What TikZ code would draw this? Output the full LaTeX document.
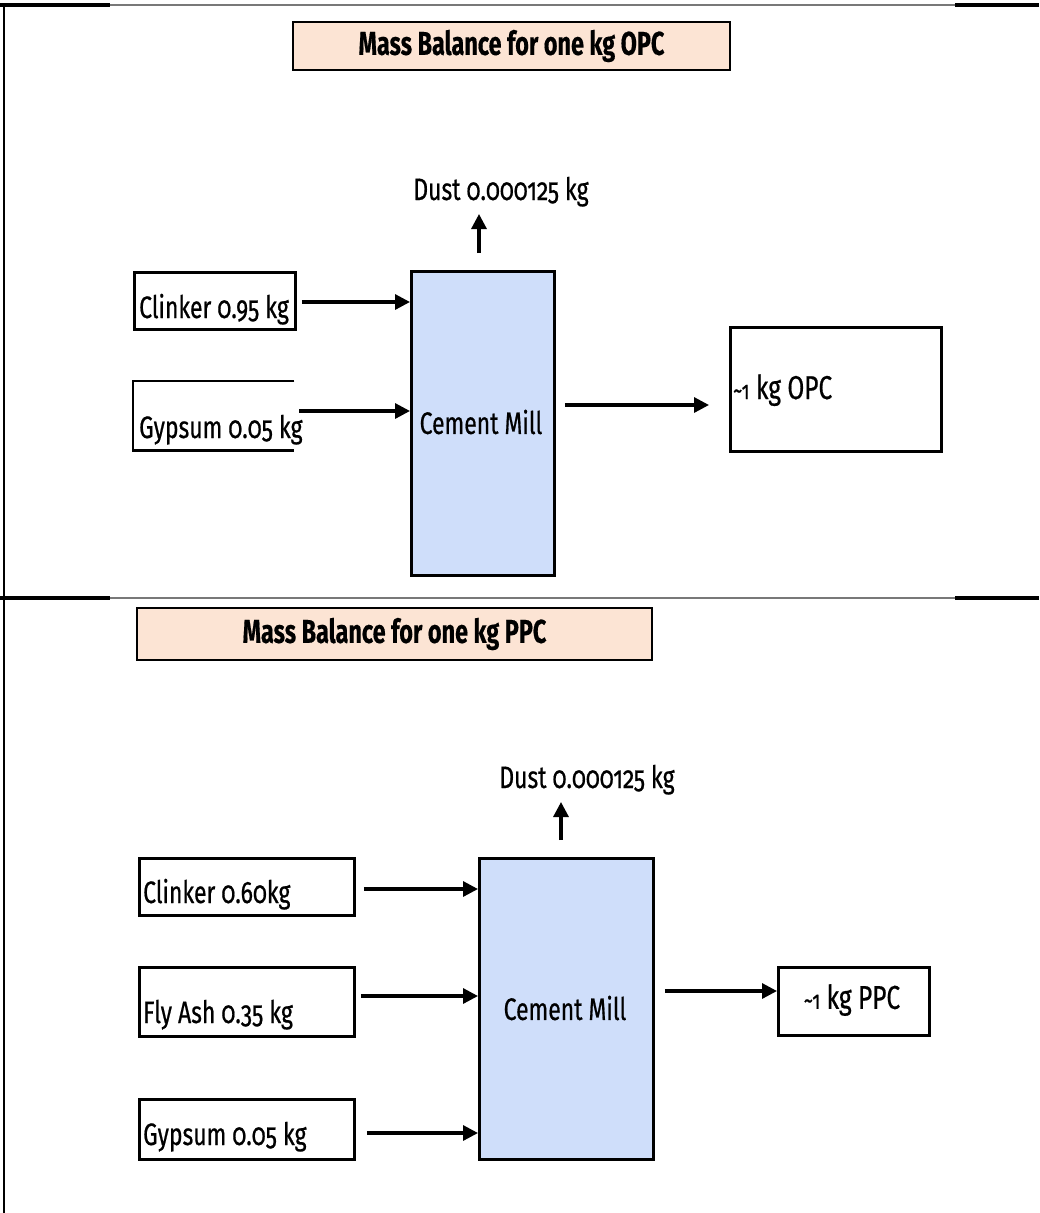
\documentclass[tikz,border=0pt]{standalone}
\usepackage{fontspec}
\setmainfont{Fira Sans}[Numbers=OldStyle, FakeStretch=0.74, FakeBold=0.6]
\newfontfamily\titlefont{Fira Sans}[Numbers=OldStyle, FakeStretch=0.71, FakeBold=0.4, BoldFont={* Bold}]
\usetikzlibrary{arrows.meta,calc}
\definecolor{peach}{RGB}{252,228,212}
\definecolor{millblue}{RGB}{207,222,250}
\definecolor{rulegray}{RGB}{120,120,120}
\begin{document}
\begin{tikzpicture}[x=1pt,y=-1pt,
  box/.style={draw=black, line width=2.8pt, fill=white, inner sep=0pt},
  titlebox/.style={draw=black, line width=2.8pt, fill=peach, inner sep=0pt,
    font=\titlefont\fontsize{33}{36}\selectfont\bfseries},
  mill/.style={draw=black, line width=2.8pt, fill=millblue, inner sep=0pt},
  lbl/.style={font=\fontsize{31}{34}\selectfont, inner sep=0pt},
  outlbl/.style={font=\fontsize{33}{36}\selectfont, inner sep=0pt},
  arr/.style={line width=3.2pt, -{Triangle[length=15pt,width=15pt]}},
]
\useasboundingbox (0,0) rectangle (1039,1213);
% frame rules
\draw[line width=3.2pt] (0,5) -- (110,5);
\draw[line width=1.2pt, rulegray] (110,5) -- (955,5);
\draw[line width=3.2pt] (955,5) -- (1039,5);
\draw[line width=3.2pt] (0,598) -- (110,598);
\draw[line width=1.2pt, rulegray] (110,598) -- (955,598);
\draw[line width=3.2pt] (955,598) -- (1039,598);
\draw[line width=1.8pt] (4,4) -- (4,1213);

% ===== OPC =====
\node[titlebox, minimum width=437, minimum height=48] (t1) at (511.5,46) {Mass Balance for one kg OPC};
\node[mill, minimum width=143, minimum height=304, anchor=north west] (m1) at (410,270) {};
\node[lbl] (m1t) at (481,422) {Cement Mill};
\node[lbl, anchor=base] (d1) at (501,200) {Dust 0.000125 kg};
\coordinate (d1s) at (479,253);
\coordinate (d1e) at (479,214);
\draw[arr] (d1s) -- (d1e);

\node[box, minimum width=161, minimum height=57, anchor=north west] (c1) at (133,271) {};
\node[lbl, anchor=base west] (c1t) at (139,318) {Clinker 0.95 kg};

\node[minimum width=161, minimum height=69, anchor=north west, inner sep=0pt] (g1) at (133,381) {};
\draw[line width=2.8pt] (g1.north east) -- (g1.north west) -- (g1.south west) -- (g1.south east);
\node[lbl, anchor=base west] (g1t) at (139,438) {Gypsum 0.05 kg};

\coordinate (y1a) at (0,302);
\coordinate (y1b) at (0,411);
\draw[arr] ($(c1.east |- y1a)+(5,0)$) -- (m1.west |- y1a);
\draw[arr] ($(g1.east |- y1b)+(5,0)$) -- (m1.west |- y1b);

\node[box, minimum width=211, minimum height=124, anchor=north west] (o1) at (729,326) {};
\node[outlbl, anchor=base west] (o1t) at (733,399) {{\fontsize{25}{27}\selectfont\textasciitilde 1} kg OPC};
\coordinate (y1c) at (0,405);
\draw[arr] ($(m1.east |- y1c)+(9,0)$) -- ($(o1.west |- y1c)+(-20,0)$);

% ===== PPC =====
\node[titlebox, minimum width=515, minimum height=52] (t2) at (394.5,634) {Mass Balance for one kg PPC};
\node[mill, minimum width=174, minimum height=301, anchor=north west] (m2) at (478,857) {};
\node[lbl] (m2t) at (565,1008) {Cement Mill};
\node[lbl, anchor=base] (d2) at (587,788) {Dust 0.000125 kg};
\coordinate (d2s) at (561,840);
\coordinate (d2e) at (561,802);
\draw[arr] (d2s) -- (d2e);

\node[box, minimum width=215, minimum height=57, anchor=north west] (c2) at (138,857) {};
\node[lbl, anchor=base west] (c2t) at (143,903) {Clinker 0.60kg};
\node[box, minimum width=215, minimum height=69, anchor=north west] (f2) at (138,966) {};
\node[lbl, anchor=base west] (f2t) at (143,1023) {Fly Ash 0.35 kg};
\node[box, minimum width=215, minimum height=60, anchor=north west] (g2) at (138,1098) {};
\node[lbl, anchor=base west] (g2t) at (143,1145) {Gypsum 0.05 kg};

\coordinate (y2a) at (0,889);
\coordinate (y2b) at (0,996);
\coordinate (y2c) at (0,1133);
\draw[arr] ($(c2.east |- y2a)+(8,0)$) -- (m2.west |- y2a);
\draw[arr] ($(f2.east |- y2b)+(5,0)$) -- (m2.west |- y2b);
\draw[arr] ($(g2.east |- y2c)+(11,0)$) -- (m2.west |- y2c);

\node[box, minimum width=151, minimum height=68, anchor=north west] (o2) at (777,966) {};
\node[outlbl] (o2t) at (852,1000) {{\fontsize{25}{27}\selectfont\textasciitilde 1} kg PPC};
\coordinate (y2d) at (0,991);
\draw[arr] ($(m2.east |- y2d)+(10,0)$) -- (o2.west |- y2d);
\end{tikzpicture}
\end{document}
